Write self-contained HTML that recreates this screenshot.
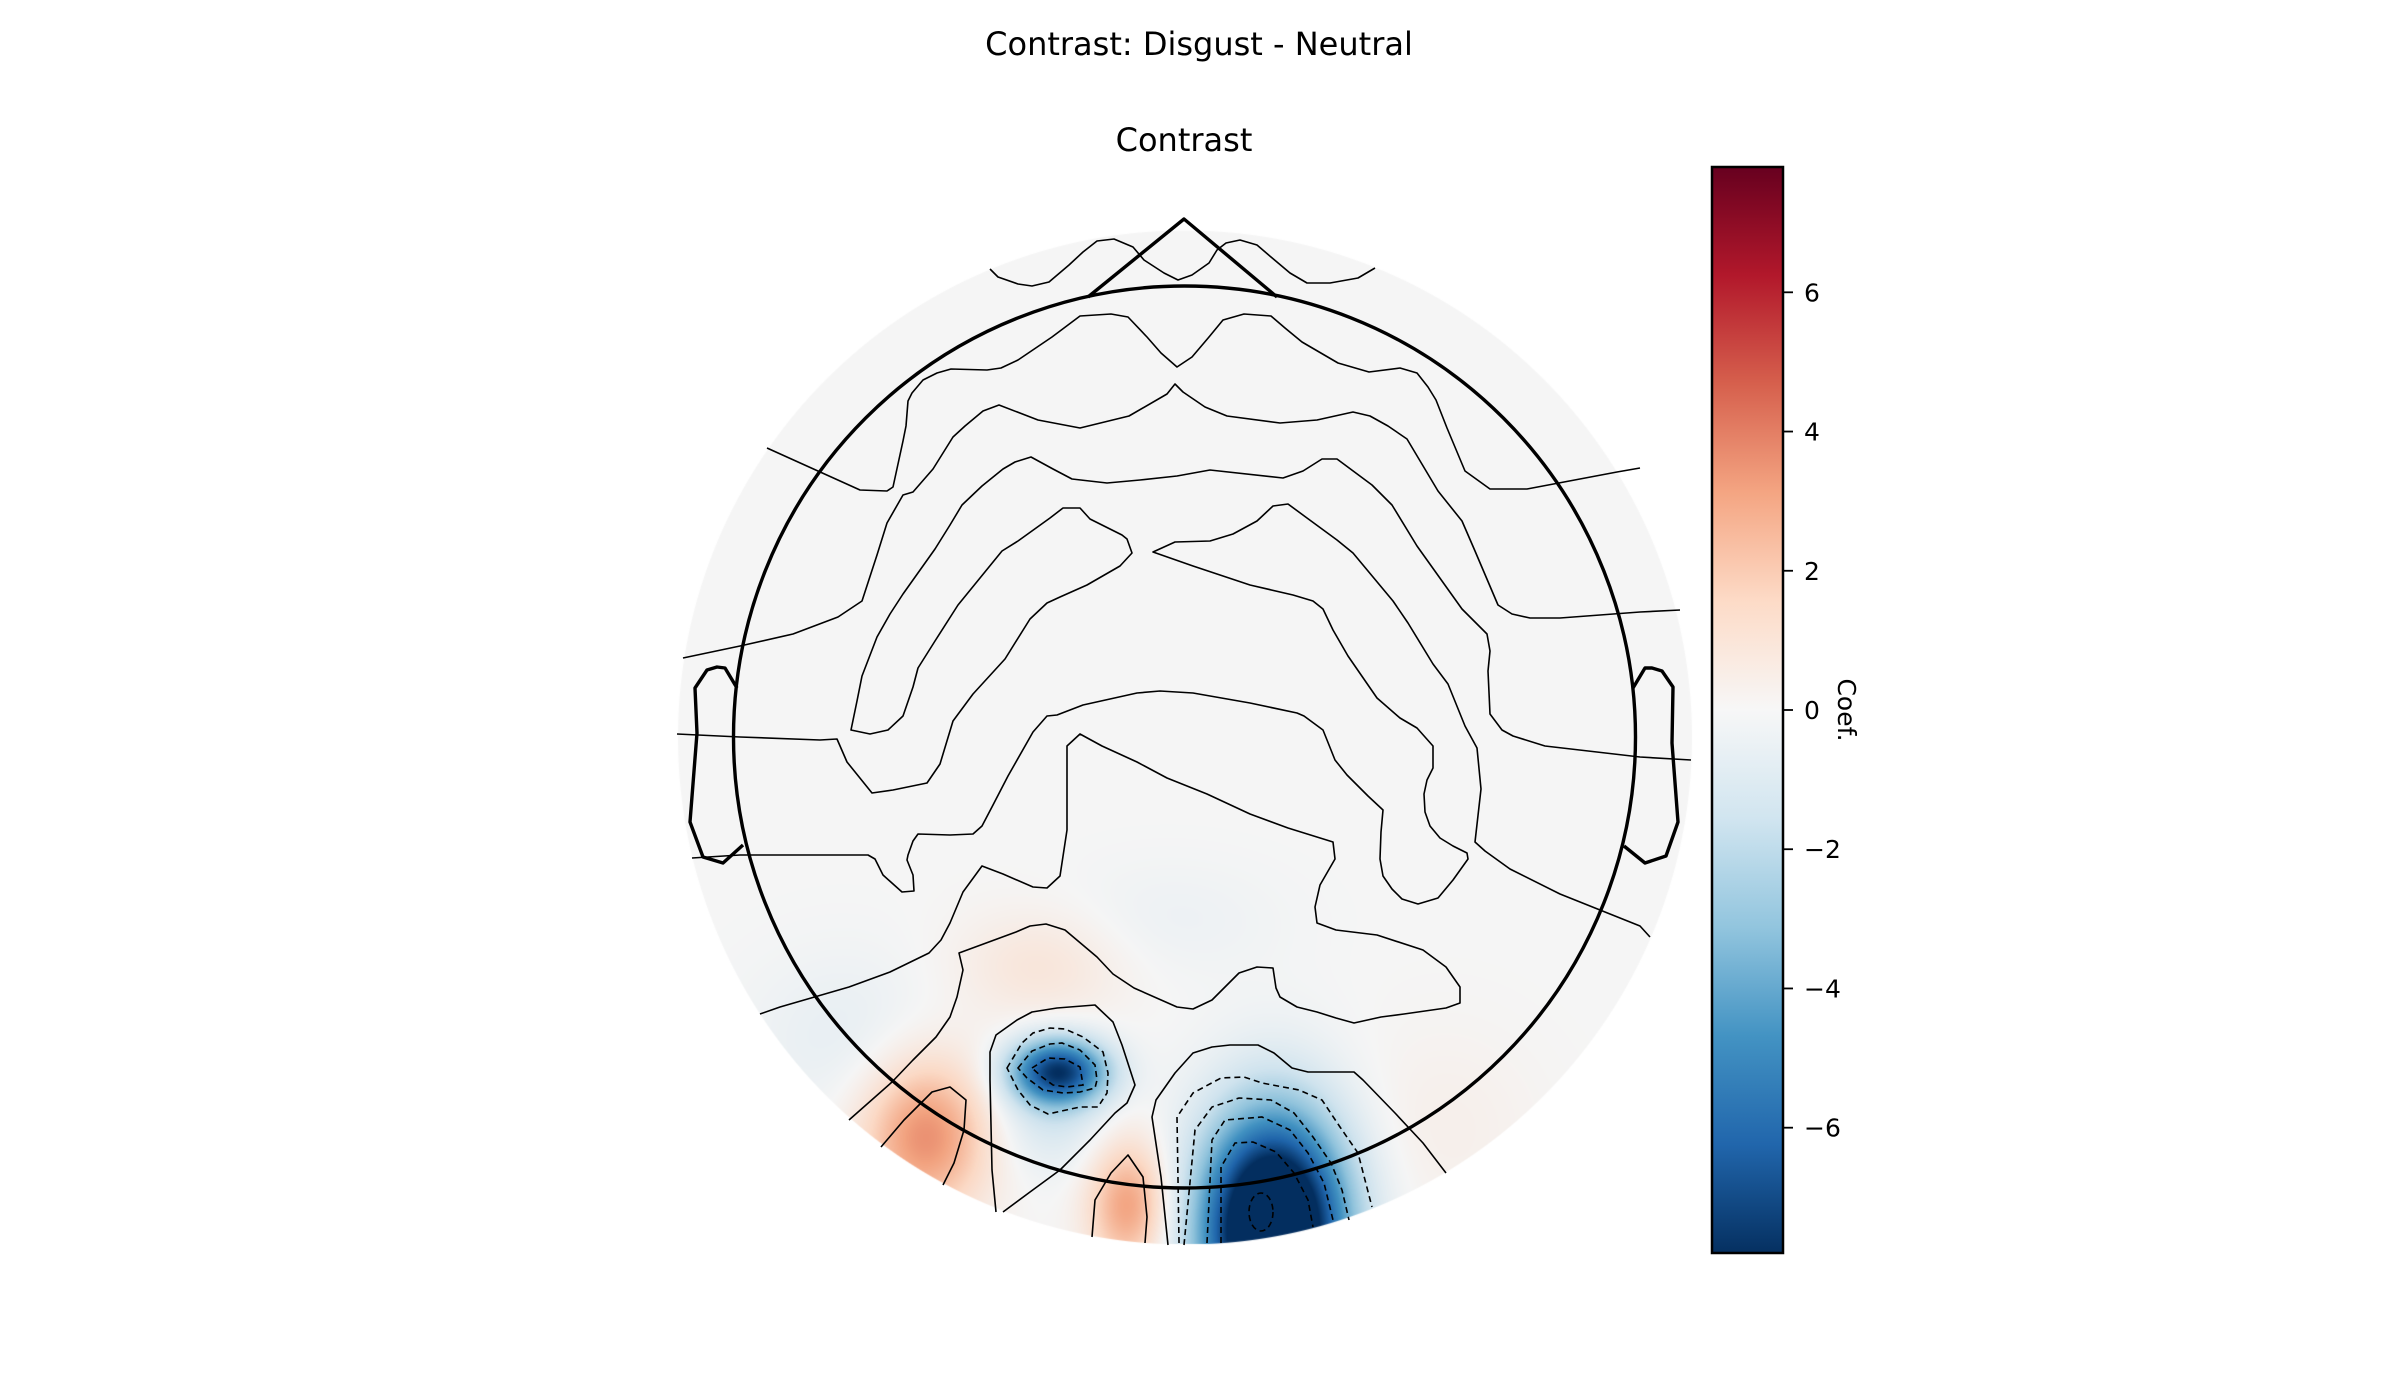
<!DOCTYPE html>
<html>
<head>
<meta charset="utf-8">
<style>
  html, body { margin: 0; padding: 0; background: #ffffff; }
  #wrap { position: relative; width: 2400px; height: 1400px; overflow: hidden; font-family: "DejaVu Sans", "Liberation Sans", sans-serif; }
  #heat { position: absolute; left: 0; top: 0; }
  #over { position: absolute; left: 0; top: 0; }
</style>
</head>
<body>
<div id="wrap">
<canvas id="heat" width="2400" height="1400"></canvas>
<svg id="over" width="2400" height="1400" viewBox="0 0 2400 1400" xmlns="http://www.w3.org/2000/svg">
  <defs>
    <linearGradient id="cbgrad" x1="0" y1="1" x2="0" y2="0"></linearGradient>
  </defs>
  <text x="1199" y="55" font-size="32" font-family="DejaVu Sans, Liberation Sans, sans-serif" text-anchor="middle" fill="#000">Contrast: Disgust - Neutral</text>
  <text x="1184" y="151" font-size="32" font-family="DejaVu Sans, Liberation Sans, sans-serif" text-anchor="middle" fill="#000">Contrast</text>

  <g fill="none" stroke="#000" stroke-width="1.6" stroke-linejoin="round">
    <polyline points="990,269 998,277 1018,284 1032,286 1049,282 1069,265 1083,252 1097,241 1114,239 1133,247 1144,260 1164,273 1178,280 1192,275 1209,263 1217,250 1226,243 1240,240 1257,245 1271,257 1290,273 1307,283 1330,283 1358,278 1375,268"/>
    <polyline points="767,448 860,490 887,491 893,487 903,441 906,426 908,401 912,393 923,380 937,373 951,369 987,370 1001,368 1018,360 1052,337 1080,316 1111,314 1128,317 1147,337 1161,353 1177,367 1192,357 1209,337 1223,320 1244,314 1271,316 1285,328 1302,342 1338,363 1369,372 1400,368 1417,373 1428,387 1436,400 1447,428 1465,471 1490,489 1527,489 1617,472 1640,468"/>
    <polyline points="683,658 740,646 793,634 838,617 862,601 877,555 887,523 903,495 913,492 933,469 953,437 965,426 983,411 999,405 1038,420 1080,428 1129,416 1167,394 1175,384 1183,392 1205,407 1227,416 1280,423 1317,420 1353,412 1370,416 1388,426 1407,439 1438,491 1462,521 1475,551 1498,605 1512,614 1530,618 1560,618 1640,612 1680,610"/>
    <polyline points="677,734 740,737 820,740 837,739 847,762 872,793 893,790 927,783 940,764 953,721 973,694 1005,659 1030,619 1047,603 1060,597 1087,585 1120,566 1132,553 1127,539 1122,535 1090,519 1080,508 1063,508 1050,518 1018,541 1002,551 958,605 935,641 918,668 913,687 903,716 888,730 870,734 851,730 857,701 862,676 877,637 890,614 903,594 935,549 950,525 962,505 982,486 1003,469 1015,462 1031,457 1053,469 1072,479 1107,483 1140,480 1177,476 1210,470 1283,478 1303,471 1322,459 1337,459 1372,485 1392,505 1417,546 1462,609 1487,634 1490,651 1488,671 1490,714 1502,730 1513,736 1545,746 1640,757 1691,760"/>
    <polyline points="1650,937 1640,926 1560,894 1510,869 1485,851 1475,842 1481,789 1477,748 1465,726 1448,684 1433,664 1408,623 1393,601 1353,553 1337,540 1307,518 1288,504 1273,506 1257,521 1233,534 1210,541 1175,542 1153,552 1193,566 1250,585 1293,595 1313,601 1323,609 1333,630 1348,656 1377,698 1400,718 1417,728 1433,746 1433,768 1427,780 1424,794 1425,812 1430,826 1440,838 1453,846 1467,853 1468,859 1453,880 1438,898 1418,904 1402,899 1392,889 1383,876 1380,859 1381,832 1383,810 1368,796 1347,775 1335,760 1323,730 1304,716 1297,713 1250,703 1193,693 1160,691 1137,693 1083,705 1057,715 1047,716 1033,732 1008,776 993,805 982,826 973,834 950,835 918,834 913,841 908,855 907,860 913,875 914,891 902,892 883,875 875,859 868,855 740,855 692,858"/>
    <polyline points="760,1014 780,1007 849,987 890,972 929,953 941,940 950,923 963,892 982,866 1003,874 1033,887 1047,888 1060,876 1067,830 1067,746 1080,734 1102,746 1137,762 1167,778 1207,794 1250,814 1288,828 1333,842 1335,859 1320,885 1315,907 1317,923 1336,930 1377,935 1423,950 1446,967 1460,987 1460,1003 1446,1008 1404,1014 1381,1017 1354,1023 1336,1018 1317,1012 1297,1007 1280,997 1276,988 1273,968 1257,967 1239,973 1212,1000 1193,1009 1177,1007 1134,988 1113,974 1097,957 1065,930 1046,924 1030,926 1016,932 959,953 963,970 957,997 950,1017 936,1037 913,1060 892,1082 849,1120"/>
    <polyline points="996,1212 992,1170 990,1080 990,1052 996,1035 1017,1020 1032,1012 1057,1008 1095,1005 1113,1022 1122,1045 1135,1085 1127,1103 1115,1113 1090,1140 1060,1170 1030,1192 1003,1212"/>
    <polyline points="1168,1245 1161,1177 1152,1117 1156,1100 1175,1073 1193,1053 1212,1047 1230,1045 1258,1045 1274,1053 1292,1068 1308,1072 1354,1072 1363,1080 1395,1113 1423,1143 1446,1173"/>
    <polyline points="881,1147 904,1120 932,1092 950,1087 966,1100 964,1130 954,1163 943,1185"/>
    <polyline points="1092,1237 1095,1200 1111,1173 1128,1155 1143,1177 1147,1217 1145,1243"/>
  </g>
  <g fill="none" stroke="#000" stroke-width="1.6" stroke-dasharray="6 4">
    <polygon points="1007,1068 1022,1043 1033,1033 1050,1028 1065,1029 1083,1037 1103,1052 1108,1073 1107,1093 1098,1107 1080,1107 1048,1114 1030,1105 1018,1090"/>
    <polygon points="1018,1068 1032,1051 1050,1044 1062,1043 1080,1050 1095,1065 1097,1080 1095,1088 1080,1092 1063,1093 1043,1090 1027,1078"/>
    <polygon points="1032,1068 1048,1058 1065,1059 1080,1067 1083,1085 1067,1087 1053,1085 1042,1077"/>
    <polyline points="1179,1243 1177,1117 1193,1093 1221,1078 1244,1077 1262,1083 1299,1090 1322,1100 1340,1127 1358,1153 1372,1207"/>
    <polyline points="1184,1245 1195,1130 1212,1107 1239,1098 1271,1100 1294,1113 1313,1137 1331,1163 1342,1190 1349,1220"/>
    <polyline points="1207,1243 1212,1140 1225,1120 1262,1117 1290,1130 1308,1153 1324,1183 1333,1220"/>
    <polyline points="1221,1243 1221,1167 1235,1143 1253,1142 1276,1152 1294,1173 1308,1200 1313,1227"/>
    <ellipse cx="1261" cy="1212" rx="12" ry="19"/>
  </g>

  <g fill="none" stroke="#000" stroke-width="3.4" stroke-linejoin="round">
    <circle cx="1184.5" cy="737" r="451"/>
    <polyline points="1088,297 1184,219 1277,297"/>
    <polyline points="737,688 725,668 717,667 707,670 695,688 697,733 690,822 703,857 723,863 743,845"/>
    <polyline points="1633,688 1645,668 1652,668 1662,671 1673,687 1672,743 1678,822 1666,856 1645,863 1624,846"/>
  </g>

  <g id="colorbar"></g>
</svg>
</div>
<script>
// ---- data ----
const blobX = [1273, 1058, 1050, 925, 1128, 1040, 850, 1165, 1440];
const blobY = [1230, 1071, 1115, 1135, 1205, 965, 1040, 920, 1130];
const blobValue = [-12, -7.2, -1.2, 3.6, 3.2, 0.9, -0.6, -0.35, 0.35];
const blobSigmaX = [50, 34, 40, 45, 28, 60, 70, 80, 70];
const blobSigmaY = [80, 23, 40, 55, 45, 40, 60, 40, 70];
const colorbarTicks = [6, 4, 2, 0, -2, -4, -6];
const tickLabels = ["6", "4", "2", "0", "\u22122", "\u22124", "\u22126"];
const vmax = 7.8;

const rdbu = ["#053061","#2166ac","#4393c3","#92c5de","#d1e5f0","#f7f7f7","#fddbc7","#f4a582","#d6604d","#b2182b","#67001f"];
const rgb = rdbu.map(h => [parseInt(h.slice(1,3),16), parseInt(h.slice(3,5),16), parseInt(h.slice(5,7),16)]);
function cmap(v) {
  let t = (v + vmax) / (2 * vmax);
  t = Math.max(0, Math.min(1, t)) * 10;
  const i = Math.min(9, Math.floor(t)), f = t - i;
  const a = rgb[i], b = rgb[i + 1];
  return [a[0] + (b[0]-a[0])*f, a[1] + (b[1]-a[1])*f, a[2] + (b[2]-a[2])*f];
}

// ---- heatmap ----
const CX = 1184.5, CY = 737, R = 507;
const cv = document.getElementById('heat');
const ctx = cv.getContext('2d');
const x0 = Math.floor(CX - R), x1 = Math.ceil(CX + R), y0 = Math.floor(CY - R), y1 = Math.ceil(CY + R);
const img = ctx.createImageData(x1 - x0, y1 - y0);
for (let y = y0; y < y1; y++) {
  for (let x = x0; x < x1; x++) {
    const dx = x - CX, dy = y - CY;
    const d = Math.sqrt(dx*dx + dy*dy);
    if (d > R + 1) continue;
    let v = 0;
    for (let k = 0; k < blobX.length; k++) {
      const u = (x - blobX[k]) / blobSigmaX[k], w = (y - blobY[k]) / blobSigmaY[k];
      const q = u*u + w*w;
      if (q < 30) v += blobValue[k] * Math.exp(-q / 2);
    }
    const c = cmap(v);
    const idx = ((y - y0) * (x1 - x0) + (x - x0)) * 4;
    const alpha = Math.max(0, Math.min(1, R + 0.5 - d));
    img.data[idx] = c[0] - 2; img.data[idx+1] = c[1] - 2; img.data[idx+2] = c[2] - 2; img.data[idx+3] = 255 * alpha;
  }
}
ctx.putImageData(img, x0, y0);

// ---- colorbar ----
const NS = 'http://www.w3.org/2000/svg';
const grad = document.getElementById('cbgrad');
rdbu.forEach((c, i) => {
  const s = document.createElementNS(NS, 'stop');
  s.setAttribute('offset', (i / 10 * 100) + '%');
  s.setAttribute('stop-color', c);
  grad.appendChild(s);
});
const cbX = 1712, cbW = 71, cbTop = 167, cbBot = 1253;
function cbY(v) { return cbBot - (v + vmax) / (2 * vmax) * (cbBot - cbTop); }
const cb = document.getElementById('colorbar');
const rect = document.createElementNS(NS, 'rect');


rect.setAttribute('x', cbX); rect.setAttribute('y', cbTop);
rect.setAttribute('width', cbW); rect.setAttribute('height', cbBot - cbTop);
rect.setAttribute('fill', 'url(#cbgrad)'); rect.setAttribute('stroke', '#000'); rect.setAttribute('stroke-width', '2.5');
cb.appendChild(rect);
colorbarTicks.forEach((v, i) => {
  const y = cbY(v);
  const ln = document.createElementNS(NS, 'line');
  
  
  ln.setAttribute('x1', cbX + cbW); ln.setAttribute('x2', cbX + cbW + 10);
  ln.setAttribute('y1', y); ln.setAttribute('y2', y);
  ln.setAttribute('stroke', '#000'); ln.setAttribute('stroke-width', '1.8');
  cb.appendChild(ln);
  const t = document.createElementNS(NS, 'text');
  
  
  t.setAttribute('x', cbX + cbW + 21); t.setAttribute('y', y + 9);
  t.setAttribute('font-size', '25');
  t.setAttribute('font-family', '"DejaVu Sans", "Liberation Sans", sans-serif');
  t.textContent = tickLabels[i];
  cb.appendChild(t);
});
const lab = document.createElementNS(NS, 'text');


lab.setAttribute('x', 1838); lab.setAttribute('y', 710);
lab.setAttribute('font-size', '25');
lab.setAttribute('text-anchor', 'middle');
lab.setAttribute('font-family', '"DejaVu Sans", "Liberation Sans", sans-serif');
lab.setAttribute('transform', 'rotate(90 1838 710)');
lab.textContent = 'Coef.';
cb.appendChild(lab);
</script>
</body>
</html>
